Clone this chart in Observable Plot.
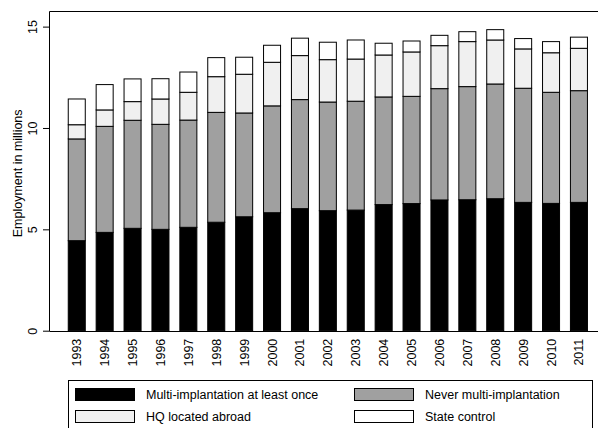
<!DOCTYPE html>
<html>
<head>
<meta charset="utf-8">
<script src="https://cdn.jsdelivr.net/npm/d3@7"></script>
<script src="https://cdn.jsdelivr.net/npm/@observablehq/plot@0.6"></script>
<style>
  html, body { margin: 0; padding: 0; overflow: hidden; background: white; }
  body { width: 598px; height: 428px; position: relative; font-family: "Liberation Sans", Arial, sans-serif; }
  #legend { position: absolute; left: 68px; top: 380px; width: 525px; height: 60px; border: 1px solid #000; box-sizing: border-box; font-size: 12.5px; color: #000; }
  .sw { position: absolute; width: 60px; height: 13px; border: 1px solid #000; box-sizing: border-box; }
  .lb { position: absolute; line-height: 14px; white-space: nowrap; }
</style>
</head>
<body>
<div id="chart"></div>
<div id="legend"></div>
<script>
const years = ["1993","1994","1995","1996","1997","1998","1999","2000","2001","2002","2003","2004","2005","2006","2007","2008","2009","2010","2011"];
const seriesNames = ["Multi-implantation at least once", "Never multi-implantation", "HQ located abroad", "State control"];
const seriesColors = ["#000000", "#a0a0a0", "#f0f0f0", "#ffffff"];
const multi = [4.44, 4.85, 5.05, 5.00, 5.10, 5.35, 5.62, 5.82, 6.02, 5.92, 5.95, 6.22, 6.27, 6.45, 6.46, 6.51, 6.33, 6.28, 6.33];
const never = [5.02, 5.23, 5.33, 5.18, 5.29, 5.42, 5.12, 5.27, 5.38, 5.36, 5.37, 5.31, 5.29, 5.49, 5.58, 5.66, 5.63, 5.48, 5.51];
const hq    = [0.70, 0.81, 0.92, 1.25, 1.37, 1.76, 1.91, 2.15, 2.17, 2.09, 2.08, 2.07, 2.19, 2.12, 2.22, 2.17, 1.94, 1.95, 2.09];
const state = [1.27, 1.25, 1.12, 1.00, 1.00, 0.94, 0.84, 0.84, 0.86, 0.86, 0.94, 0.58, 0.54, 0.51, 0.49, 0.51, 0.51, 0.55, 0.55];
const yTicks = [0, 5, 10, 15];
const yLabel = "Employment in millions";

const seriesValues = [multi, never, hq, state];
const rows = [];
years.forEach((yr, i) => {
  seriesNames.forEach((s, k) => rows.push({year: yr, series: s, value: seriesValues[k][i]}));
});

const font = '"Liberation Sans", Arial, sans-serif';

// box around the plot region (right side lies beyond the image edge, as in the reference)
function plotBox(index, scales, values, dimensions) {
  const top = Math.round(scales.y(15.77)) + 0.5;
  const bottom = Math.round(scales.y(0)) + 0.5;
  const left = dimensions.marginLeft + 0.5;
  const g = d3.create("svg:path")
    .attr("fill", "none")
    .attr("stroke", "#000")
    .attr("stroke-width", 1)
    .attr("d", `M 610 ${top} H ${left} V ${bottom} H 610`);
  return g.node();
}

const chart = Plot.plot({
  width: 598,
  height: 375,
  marginLeft: 49,
  marginTop: 11,
  marginBottom: 44.3,
  marginRight: 0,
  style: {fontFamily: font, fontSize: "12.5px", color: "#000", background: "white"},
  x: {domain: years, range: [49, 606.7], paddingInner: 0.39, paddingOuter: 0.69, round: false, label: null},
  y: {domain: [0, 15.77], label: null},
  color: {domain: seriesNames, range: seriesColors},
  marks: [
    Plot.barY(rows, {x: "year", y: "value", fill: "series", stroke: "#000", strokeWidth: 1}),
    plotBox,
    Plot.axisY({ticks: yTicks, tickSize: 6, tickRotate: -90, tickPadding: 6.5, fontSize: 12.5, label: null}),
    Plot.axisX({tickSize: 0, tickRotate: -90, tickPadding: 7.5, fontSize: 12.5, label: null}),
    Plot.text([yLabel], {frameAnchor: "left", rotate: -90, dx: -32, dy: 2, fontSize: 12.5, lineAnchor: "middle", textAnchor: "middle"})
  ]
});
document.getElementById("chart").appendChild(chart);

const legend = document.getElementById("legend");
const pos = [
  {sx: 6, sy: 7, tx: 77, ty: 7},
  {sx: 285, sy: 7, tx: 356, ty: 7},
  {sx: 6, sy: 29, tx: 77, ty: 29},
  {sx: 285, sy: 29, tx: 356, ty: 29}
];
seriesNames.forEach((s, k) => {
  const p = pos[k];
  const sw = document.createElement("div");
  sw.className = "sw";
  sw.style.left = p.sx + "px";
  sw.style.top = p.sy + "px";
  sw.style.background = seriesColors[k];
  legend.appendChild(sw);
  const lb = document.createElement("div");
  lb.className = "lb";
  lb.style.left = p.tx + "px";
  lb.style.top = p.ty + "px";
  lb.textContent = s;
  legend.appendChild(lb);
});
</script>
</body>
</html>
